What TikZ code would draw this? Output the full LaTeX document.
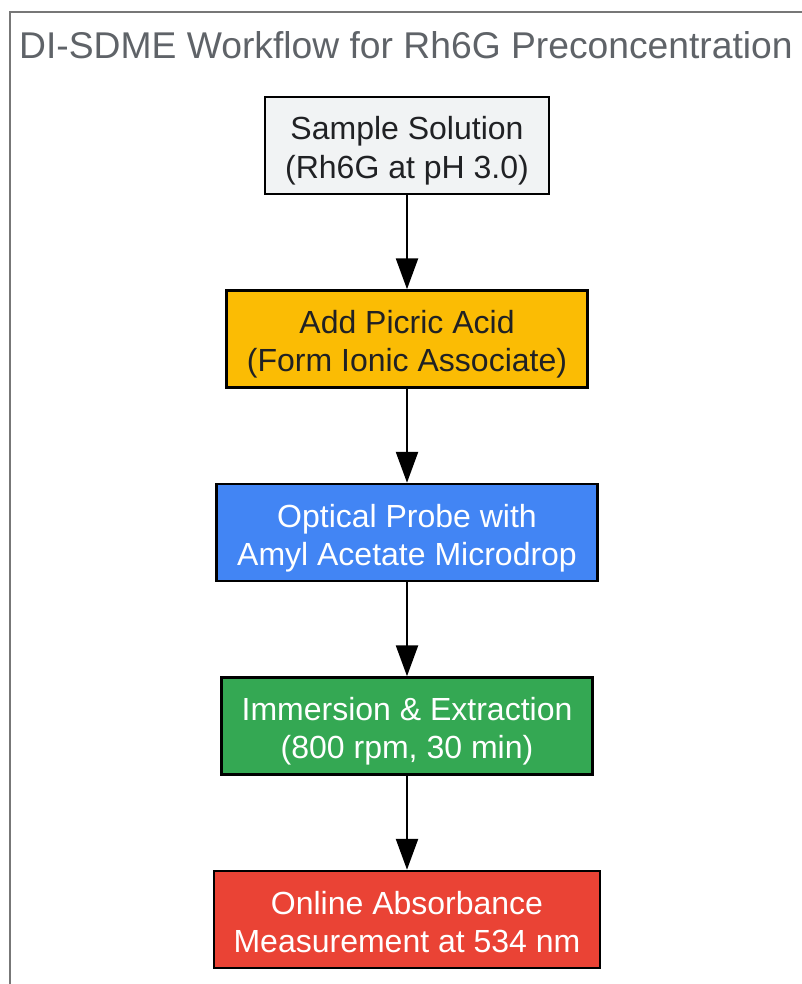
\documentclass[tikz,border=0pt]{standalone}
\usepackage{fontspec}
\setmainfont{Liberation Sans}
\usetikzlibrary{arrows.meta}

\definecolor{titlegray}{HTML}{5F6368}
\definecolor{framegray}{HTML}{777777}
\definecolor{inkdark}{HTML}{202124}
\definecolor{samplefill}{HTML}{F1F3F4}
\definecolor{acidfill}{HTML}{FBBC04}
\definecolor{probefill}{HTML}{4285F4}
\definecolor{extractfill}{HTML}{34A853}
\definecolor{measurefill}{HTML}{EA4335}

% fixed box round the two lines, so every stage sits the same way
\newcommand{\linestrut}{\rule[-8pt]{0pt}{81.8pt}}

\begin{document}
\begin{tikzpicture}[
    node distance=193.5pt,
    stage/.style={
        rectangle,
        draw=black,
        line width=2.5pt,
        minimum height=97pt,
        align=center,
        font=\fontsize{32}{38.4}\selectfont,
        execute at begin node=\linestrut
    },
    darktext/.style={stage, text=inkdark},
    lighttext/.style={stage, text=white},
    flow/.style={
        -{Triangle[length=31pt, width=22pt]},
        line width=2.5pt,
        black
    },
    frame/.style={
        draw=framegray,
        line width=1.8pt
    }
]
    \useasboundingbox (0,0) rectangle (801pt,-984pt);

    % Outer frame and title
    \draw[frame] (10pt,-12pt) rectangle (840pt,-1020pt);
    \node[anchor=base west, inner sep=0pt, text=titlegray,
          font=\fontsize{37.25}{44}\selectfont] (title) at (19pt,-59pt)
          {DI-SDME Workflow for Rh6G Preconcentration};

    % Workflow stages
    \node[darktext, fill=samplefill, minimum width=284pt] (sample) at (407pt,-145.5pt)
        {Sample Solution\\(Rh6G at pH 3.0)};
    \node[darktext, fill=acidfill, minimum width=361pt] (acid) [below of=sample]
        {Add Picric Acid\\(Form Ionic Associate)};
    \node[lighttext, fill=probefill, minimum width=381pt] (probe) [below of=acid]
        {Optical Probe with\\Amyl Acetate Microdrop};
    \node[lighttext, fill=extractfill, minimum width=371pt] (extract) [below of=probe]
        {Immersion \& Extraction\\(800 rpm, 30 min)};
    \node[lighttext, fill=measurefill, minimum width=386pt] (measure) [below of=extract]
        {Online Absorbance\\Measurement at 534 nm};

    % Connections
    \draw[flow] (sample) -- (acid);
    \draw[flow] (acid) -- (probe);
    \draw[flow] (probe) -- (extract);
    \draw[flow] (extract) -- (measure);

\end{tikzpicture}
\end{document}
